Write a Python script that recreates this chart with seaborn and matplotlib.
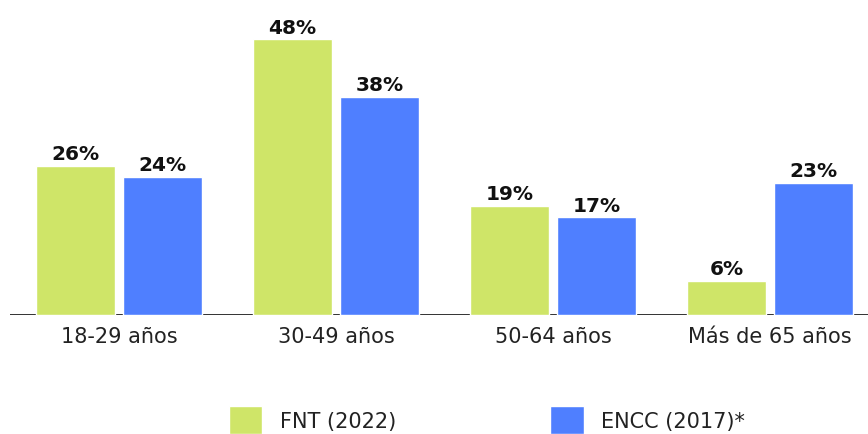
import matplotlib
matplotlib.use("Agg")
import matplotlib.pyplot as plt
import seaborn as sns
import pandas as pd

categories = ["18-29 años", "30-49 años", "50-64 años", "Más de 65 años"]
series_names = ["FNT (2022)", "ENCC (2017)*"]
fnt_values = [26, 48, 19, 6]
encc_values = [24, 38, 17, 23]

colors = ["#CFE568", "#4F7FFF"]

df = pd.DataFrame({
    "cat": categories * 2,
    "serie": [series_names[0]] * 4 + [series_names[1]] * 4,
    "val": fnt_values + encc_values,
})

sns.set_theme(style="white")
plt.rcParams["font.family"] = ["DejaVu Sans"]

fig = plt.figure(figsize=(8.68, 4.35), dpi=100)
ax = fig.add_axes([10 / 868, 119 / 435, 858 / 868, 287 / 435])

sns.barplot(data=df, x="cat", y="val", hue="serie", palette=colors,
            width=0.8, gap=0.09, ax=ax, saturation=1, legend=True)

for cont in ax.containers:
    ax.bar_label(cont, labels=[f"{v:.0f}%" for v in cont.datavalues],
                 padding=2, fontsize=14.5, fontweight="bold", color="#111111")

ax.set_xlim(-0.502, 3.452)
ax.set_ylim(0, 50)
ax.set_xlabel("")
ax.set_ylabel("")
ax.set_yticks([])
for s in ["top", "right", "left", "bottom"]:
    ax.spines[s].set_visible(False)
ax.axhline(0, color="#222222", lw=1.3, zorder=0.5)
ax.tick_params(axis="x", length=0, pad=8, labelsize=15, labelcolor="#222222")

sns.move_legend(ax, loc="center left", bbox_to_anchor=(229 / 868, 421 / 435),
                bbox_transform=fig.transFigure, ncol=2, title=None, frameon=False,
                fontsize=15, handlelength=1.6, handleheight=1.65,
                handletextpad=0.85, columnspacing=7.4, borderpad=0, borderaxespad=0)
leg = ax.get_legend()
leg.set_bbox_to_anchor((229 / 868, 1 - 421 / 435), transform=fig.transFigure)
for t in leg.get_texts():
    t.set_color("#222222")

fig.savefig("out.png", dpi=100)
